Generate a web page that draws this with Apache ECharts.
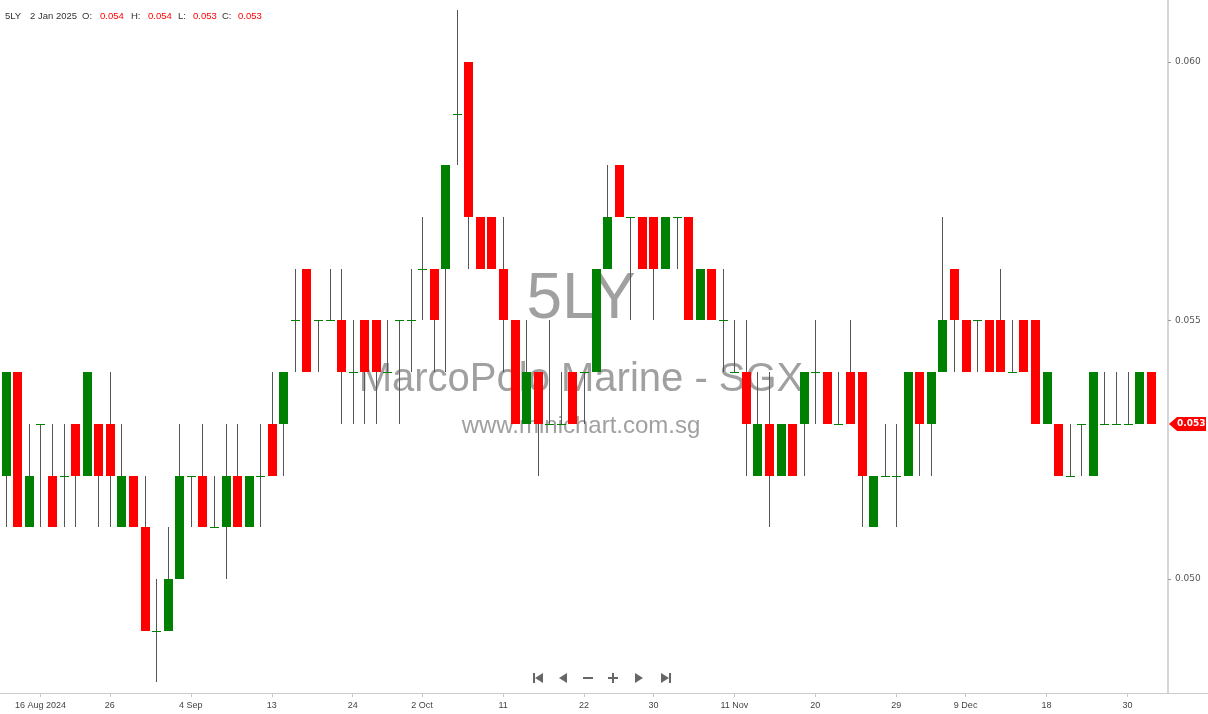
<!DOCTYPE html>
<html>
<head>
<meta charset="utf-8">
<script src="https://cdn.jsdelivr.net/npm/echarts@6/dist/echarts.min.js"></script>
<style>
html,body{margin:0;padding:0;background:#fff;}
#chart{width:1208px;height:714px;}
</style>
</head>
<body>
<div id="chart"></div>
<script>
// ---- data ----
var symbol = '5LY';
var dates = [
 '2024-08-13','2024-08-14','2024-08-15','2024-08-16','2024-08-19','2024-08-20','2024-08-21','2024-08-22','2024-08-23','2024-08-26',
 '2024-08-27','2024-08-28','2024-08-29','2024-08-30','2024-09-02','2024-09-03','2024-09-04','2024-09-05','2024-09-06','2024-09-09',
 '2024-09-10','2024-09-11','2024-09-12','2024-09-13','2024-09-16','2024-09-17','2024-09-18','2024-09-19','2024-09-20','2024-09-23',
 '2024-09-24','2024-09-25','2024-09-26','2024-09-27','2024-09-30','2024-10-01','2024-10-02','2024-10-03','2024-10-04','2024-10-07',
 '2024-10-08','2024-10-09','2024-10-10','2024-10-11','2024-10-14','2024-10-15','2024-10-16','2024-10-17','2024-10-18','2024-10-21',
 '2024-10-22','2024-10-23','2024-10-24','2024-10-25','2024-10-28','2024-10-29','2024-10-30','2024-11-01','2024-11-04','2024-11-05',
 '2024-11-06','2024-11-07','2024-11-08','2024-11-11','2024-11-12','2024-11-13','2024-11-14','2024-11-15','2024-11-18','2024-11-19',
 '2024-11-20','2024-11-21','2024-11-22','2024-11-25','2024-11-26','2024-11-27','2024-11-28','2024-11-29','2024-12-02','2024-12-03',
 '2024-12-04','2024-12-05','2024-12-06','2024-12-09','2024-12-10','2024-12-11','2024-12-12','2024-12-13','2024-12-16','2024-12-17',
 '2024-12-18','2024-12-19','2024-12-20','2024-12-23','2024-12-24','2024-12-26','2024-12-27','2024-12-30','2024-12-31','2025-01-02'
];
var opens = [
 0.052,0.054,0.051,0.053,0.052,0.052,0.053,0.052,0.053,0.053,
 0.051,0.052,0.051,0.049,0.049,0.050,0.052,0.052,0.051,0.051,
 0.052,0.051,0.052,0.053,0.053,0.055,0.056,0.055,0.055,0.055,
 0.054,0.055,0.055,0.054,0.055,0.055,0.056,0.056,0.056,0.059,
 0.060,0.057,0.057,0.056,0.055,0.053,0.054,0.053,0.053,0.054,
 0.054,0.054,0.056,0.058,0.057,0.057,0.057,0.056,0.057,0.057,
 0.055,0.056,0.055,0.054,0.054,0.052,0.053,0.052,0.053,0.053,
 0.054,0.054,0.053,0.054,0.054,0.051,0.052,0.052,0.052,0.054,
 0.053,0.054,0.056,0.055,0.055,0.055,0.055,0.054,0.055,0.055,
 0.053,0.053,0.052,0.053,0.052,0.053,0.053,0.053,0.053,0.054
];
var highs = [
 0.054,0.054,0.053,0.053,0.053,0.053,0.053,0.054,0.053,0.054,
 0.053,0.052,0.052,0.050,0.051,0.053,0.052,0.053,0.052,0.053,
 0.053,0.052,0.053,0.054,0.054,0.056,0.056,0.055,0.056,0.056,
 0.055,0.055,0.055,0.055,0.055,0.056,0.057,0.056,0.058,0.061,
 0.060,0.057,0.057,0.057,0.055,0.055,0.054,0.055,0.054,0.054,
 0.054,0.056,0.058,0.058,0.057,0.057,0.057,0.057,0.057,0.057,
 0.056,0.056,0.056,0.055,0.055,0.054,0.054,0.053,0.053,0.054,
 0.055,0.054,0.054,0.055,0.054,0.052,0.053,0.053,0.054,0.054,
 0.054,0.057,0.056,0.055,0.055,0.055,0.056,0.055,0.055,0.055,
 0.054,0.053,0.053,0.053,0.054,0.054,0.054,0.054,0.054,0.054
];
var lows = [
 0.051,0.051,0.051,0.051,0.051,0.051,0.051,0.052,0.051,0.051,
 0.051,0.051,0.049,0.048,0.049,0.050,0.051,0.051,0.051,0.050,
 0.051,0.051,0.051,0.052,0.052,0.054,0.054,0.054,0.055,0.053,
 0.053,0.053,0.053,0.054,0.053,0.054,0.055,0.054,0.054,0.058,
 0.056,0.056,0.056,0.054,0.053,0.053,0.052,0.053,0.053,0.053,
 0.053,0.054,0.056,0.057,0.055,0.056,0.055,0.056,0.056,0.055,
 0.055,0.055,0.054,0.054,0.052,0.052,0.051,0.052,0.052,0.052,
 0.053,0.053,0.053,0.053,0.051,0.051,0.052,0.051,0.052,0.052,
 0.052,0.054,0.054,0.054,0.054,0.054,0.054,0.054,0.054,0.053,
 0.053,0.052,0.052,0.052,0.052,0.053,0.053,0.053,0.053,0.053
];
var closes = [
 0.054,0.051,0.052,0.053,0.051,0.052,0.052,0.054,0.052,0.052,
 0.052,0.051,0.049,0.049,0.050,0.052,0.052,0.051,0.051,0.052,
 0.051,0.052,0.052,0.052,0.054,0.055,0.054,0.055,0.055,0.054,
 0.054,0.054,0.054,0.054,0.055,0.055,0.056,0.055,0.058,0.059,
 0.057,0.056,0.056,0.055,0.053,0.054,0.053,0.053,0.053,0.053,
 0.054,0.056,0.057,0.057,0.057,0.056,0.056,0.057,0.057,0.055,
 0.056,0.055,0.055,0.054,0.053,0.053,0.052,0.053,0.052,0.054,
 0.054,0.053,0.053,0.053,0.052,0.052,0.052,0.052,0.054,0.053,
 0.054,0.055,0.055,0.054,0.055,0.054,0.054,0.054,0.054,0.053,
 0.054,0.052,0.052,0.053,0.054,0.053,0.053,0.053,0.054,0.053
];
var tickDates  = ['2024-08-16','2024-08-26','2024-09-04','2024-09-13','2024-09-24','2024-10-02','2024-10-11','2024-10-22','2024-10-30','2024-11-11','2024-11-20','2024-11-29','2024-12-09','2024-12-18','2024-12-30'];
var tickLabels = ['16 Aug 2024','26','4 Sep','13','24','2 Oct','11','22','30','11 Nov','20','29','9 Dec','18','30'];
var priceTicks = [0.050, 0.055, 0.060];
var headerDate = '2 Jan 2025';
var watermark = ['5LY', 'MarcoPolo Marine - SGX', 'www.minichart.com.sg'];

// ---- build ----
var candleData = dates.map(function (d, i) { return [i, opens[i], closes[i], lows[i], highs[i]]; });
var last = dates.length - 1;
var UP = '#008000', DOWN = '#ff0000', WICK = '#555555';

var chart = echarts.init(document.getElementById('chart'), null, {renderer: 'canvas'});

var hdrFont = '"Liberation Sans", Arial, sans-serif';
function hdr(text, x, color) {
  return {type: 'text', left: x, top: 11, z: 10, style: {text: text, fill: color, font: '9.5px ' + hdrFont}};
}
function fmt(v) { return v.toFixed(3); }

var option = {
  animation: false,
  backgroundColor: '#ffffff',
  grid: {left: 0, right: 40, top: 0, bottom: 21, containLabel: false},
  xAxis: {
    type: 'category',
    data: dates.concat(['']),
    boundaryGap: true,
    axisLine: {show: true, lineStyle: {color: '#cccccc', width: 1}},
    axisTick: {
      show: true, alignWithLabel: true, length: 4, lineStyle: {color: '#c8c8c8'},
      interval: function (idx, val) { return tickDates.indexOf(val) >= 0; }
    },
    axisLabel: {
      interval: function (idx, val) { return tickDates.indexOf(val) >= 0; },
      formatter: function (val) { var k = tickDates.indexOf(val); return k >= 0 ? tickLabels[k] : ''; },
      color: '#444', fontSize: 9, fontFamily: hdrFont, margin: 8
    },
    splitLine: {show: false}
  },
  yAxis: {
    type: 'value',
    position: 'right',
    min: 0.047795,
    max: 0.061199,
    scale: true,
    axisLine: {show: true, lineStyle: {color: '#c8c8c8', width: 1.5}},
    axisTick: {show: true, length: 3, lineStyle: {color: '#999'}, customValues: priceTicks},
    axisLabel: {
      customValues: priceTicks,
      formatter: function (v) { return fmt(v); },
      color: '#555', fontSize: 9, fontFamily: '"DejaVu Sans", Verdana, sans-serif', margin: 7
    },
    splitLine: {show: false}
  },
  graphic: [
    hdr(symbol, 5, '#333'),
    hdr(headerDate, 30, '#333'),
    hdr('O:', 82, '#333'), hdr(fmt(opens[last]), 100, DOWN),
    hdr('H:', 131, '#333'), hdr(fmt(highs[last]), 148, DOWN),
    hdr('L:', 178, '#333'), hdr(fmt(lows[last]), 193, DOWN),
    hdr('C:', 222, '#333'), hdr(fmt(closes[last]), 238, DOWN),
    {type: 'text', z: 0, x: 581, y: 300, style: {text: watermark[0], fill: '#a0a0a0', font: '64px "Liberation Sans", Arial, sans-serif', align: 'center', verticalAlign: 'middle'}},
    {type: 'text', z: 0, x: 581, y: 380, style: {text: watermark[1], fill: '#a0a0a0', font: '40px "Liberation Sans", Arial, sans-serif', align: 'center', verticalAlign: 'middle'}},
    {type: 'text', z: 0, x: 581, y: 426, style: {text: watermark[2], fill: '#a0a0a0', font: '24px "Liberation Sans", Arial, sans-serif', align: 'center', verticalAlign: 'middle'}},
    // navigation icons
    {type: 'rect', z: 10, shape: {x: 533, y: 673, width: 2, height: 10}, style: {fill: '#666'}},
    {type: 'polygon', z: 10, shape: {points: [[543, 673], [543, 683], [535, 678]]}, style: {fill: '#666'}},
    {type: 'polygon', z: 10, shape: {points: [[567, 673], [567, 683], [559, 678]]}, style: {fill: '#666'}},
    {type: 'rect', z: 10, shape: {x: 583, y: 677, width: 10, height: 2}, style: {fill: '#666'}},
    {type: 'rect', z: 10, shape: {x: 608, y: 677, width: 10, height: 2}, style: {fill: '#666'}},
    {type: 'rect', z: 10, shape: {x: 612, y: 673, width: 2, height: 10}, style: {fill: '#666'}},
    {type: 'polygon', z: 10, shape: {points: [[635, 673], [635, 683], [643, 678]]}, style: {fill: '#666'}},
    {type: 'polygon', z: 10, shape: {points: [[661, 673], [661, 683], [669, 678]]}, style: {fill: '#666'}},
    {type: 'rect', z: 10, shape: {x: 669, y: 673, width: 2, height: 10}, style: {fill: '#666'}},
    // axis line continuation to the right edge
    {type: 'line', z: 10, shape: {x1: 1168, y1: 693.5, x2: 1208, y2: 693.5}, style: {stroke: '#cccccc', lineWidth: 1}}
  ],
  series: [{
    type: 'custom',
    z: 5,
    data: candleData,
    encode: {x: 0, y: [1, 2, 3, 4]},
    clip: false,
    renderItem: function (params, api) {
      var i = api.value(0), o = api.value(1), c = api.value(2), l = api.value(3), h = api.value(4);
      var pO = api.coord([i, o]), pC = api.coord([i, c]), pL = api.coord([i, l]), pH = api.coord([i, h]);
      var band = api.size([1, 0])[0];
      var w = Math.round(band * 0.78);
      var cx = Math.round(pO[0]);
      var x0 = cx - Math.floor(w / 2);
      var children = [{
        type: 'line',
        shape: {x1: cx + 0.5, y1: Math.round(pH[1]), x2: cx + 0.5, y2: Math.round(pL[1])},
        style: {stroke: WICK, lineWidth: 1}
      }];
      if (o === c) {
        var yy = Math.round(pO[1]) + 0.5;
        children.push({type: 'line', shape: {x1: x0, y1: yy, x2: x0 + w, y2: yy}, style: {stroke: UP, lineWidth: 1}});
      } else {
        var top = Math.round(Math.min(pO[1], pC[1])), bot = Math.round(Math.max(pO[1], pC[1]));
        children.push({type: 'rect', shape: {x: x0, y: top, width: w, height: bot - top}, style: {fill: c > o ? UP : DOWN}});
      }
      if (params.dataIndex === last) {
        // last-price tag on the price axis
        var cs = params.coordSys;
        var ax = cs.x + cs.width + 1;
        var ty = Math.round(pC[1]);
        children.push({type: 'polygon', shape: {points: [[ax, ty], [ax + 8, ty - 7], [ax + 37, ty - 7], [ax + 37, ty + 7], [ax + 8, ty + 7]]}, style: {fill: DOWN}});
        children.push({type: 'text', x: ax + 8, y: ty, style: {text: fmt(c), fill: '#fff', font: 'bold 9px "DejaVu Sans", Verdana, sans-serif', align: 'left', verticalAlign: 'middle'}});
      }
      return {type: 'group', children: children};
    }
  }]
};
chart.setOption(option);
</script>
</body>
</html>
